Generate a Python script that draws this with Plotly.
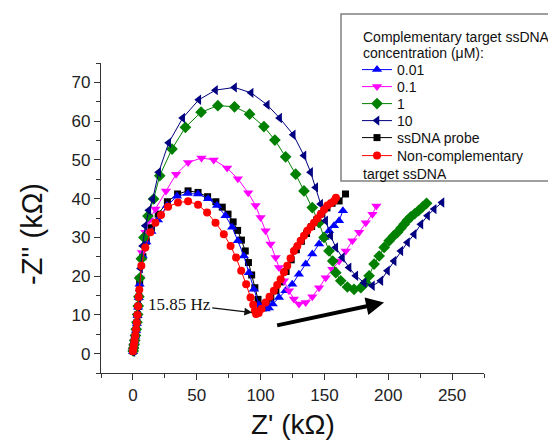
import plotly.graph_objects as go

# ---- data (Z' in kOhm, -Z'' in kOhm) ----
red_x = [0.0,0.3,0.7,1.2,1.8,2.4,3.0,3.5,4.0,4.5,5.0,6.6,9.7,13.7,17.6,22.0,27.5,35.3,43.2,51.0,
         58.1,64.7,71.2,76.5,80.8,84.8,88.7,92.1,94.2,95.5,96.5,98.5,100.8,103.9,107.0,110.4,113.0,115.7,118.3,120.9,
         123.5,126.1,128.8,131.4,134.0,136.6,139.2,141.8,144.5,147.1,149.7,152.3,155.0,157.5,159.0]
red_y = [0.6,1.3,2.2,3.3,4.6,6.2,8.0,10.0,12.2,14.6,16.5,22.7,27.4,31.3,33.8,35.8,37.9,39.0,39.3,38.4,
         36.4,33.8,30.8,27.8,24.8,21.4,17.9,14.5,12.6,11.0,10.2,10.5,11.6,13.2,14.7,16.2,17.7,19.2,21.0,22.7,
         24.6,26.5,27.8,29.1,30.4,31.7,32.7,33.8,34.9,36.0,37.1,38.2,38.8,39.4,40.2]

blue_x = [0.1,0.4,0.8,1.3,1.9,2.5,3.1,3.6,4.1,4.6,5.2,7.6,10.5,14.5,19.6,26.7,34.5,42.9,51.0,58.9,
          65.9,72.5,77.7,82.2,86.9,90.8,94.7,98.7,101.2,103.9,106.5,109.5,114.4,119.5,124.8,130.0,135.3,140.5,145.8,150.0,
          153.6,157.5,161.5,164.5]
blue_y = [0.5,1.2,2.1,3.2,4.5,6.0,7.8,9.8,12.0,14.4,17.9,25.2,28.8,31.5,34.5,38.2,40.6,41.3,41.2,40.0,
          38.2,35.6,32.6,29.1,25.2,20.9,16.6,12.6,11.7,11.5,11.8,12.8,14.5,16.2,17.9,20.5,23.1,25.7,28.3,30.0,
          31.7,33.0,34.3,36.9]

black_x = [0.2,0.5,0.9,1.4,2.0,2.6,3.2,3.7,4.2,4.7,5.3,7.8,10.5,14.5,19.8,27.0,35.0,43.2,51.0,58.5,
           65.0,70.0,74.5,78.5,82.0,85.0,88.0,90.5,93.0,95.5,98.0,100.0,102.0,104.5,108.0,112.0,116.0,120.0,124.0,128.0,
           132.0,136.0,140.0,144.0,148.0,152.0,156.0,161.5,166.5]
black_y = [0.6,1.3,2.2,3.3,4.6,6.2,8.0,10.0,12.2,14.6,18.2,25.0,29.0,32.5,36.0,39.2,41.2,42.0,41.6,40.5,
           39.2,37.8,36.0,34.0,31.8,29.3,26.5,23.5,20.3,17.0,14.0,12.4,11.8,12.8,14.3,16.2,18.5,21.2,24.2,26.8,
           29.0,31.0,32.8,34.5,36.1,37.6,38.8,39.4,41.2]

pink_x = [0.1,0.4,0.8,1.3,1.9,2.5,3.1,3.6,4.1,4.6,5.4,7.1,9.7,12.8,17.6,25.9,33.8,43.2,53.7,63.3,
          73.8,82.2,90.3,96.1,100.0,103.9,107.8,111.8,114.4,118.3,122.2,126.1,130.1,135.3,140.5,145.8,151.0,156.2,161.5,166.7,
          171.9,177.2,182.4,187.6,190.7]
pink_y = [0.5,1.2,2.1,3.2,4.5,6.0,7.8,9.8,12.0,14.4,19.5,26.1,31.3,34.5,37.3,42.0,46.3,49.3,50.5,50.0,
          47.9,45.1,41.5,38.2,35.1,31.7,28.3,24.8,22.2,18.8,16.2,14.1,12.8,13.2,14.7,17.0,19.6,21.8,23.9,26.5,
          29.1,31.3,33.8,36.0,38.1]

green_x = [0.2,0.5,0.9,1.4,2.0,2.6,3.2,3.7,4.2,4.7,5.3,6.6,8.6,11.8,16.2,21.0,30.6,41.1,53.4,66.5,
           79.6,91.4,102.6,111.2,119.6,127.5,134.0,140.5,145.8,149.7,153.6,156.5,158.9,162.8,168.0,173.2,178.5,182.4,185.0,188.9,
           192.9,196.8,200.7,204.0,207.2,210.0,212.5,215.0,217.7,220.7,223.7,227.0,230.0]
green_y = [0.7,1.4,2.3,3.4,4.7,6.3,8.1,10.1,12.3,14.7,19.5,24.5,30.0,35.5,39.9,45.9,52.8,58.4,62.3,64.0,
           63.7,61.8,58.6,55.1,50.8,46.3,42.0,37.7,33.8,30.0,26.5,23.9,20.9,18.8,17.2,16.6,17.0,18.3,20.1,23.1,
           25.2,27.4,29.1,30.3,31.3,32.4,33.4,34.4,35.3,36.1,36.9,37.9,38.8]

navy_x = [0.0,0.3,0.7,1.2,1.8,2.4,3.0,3.5,4.0,4.5,5.0,6.0,7.6,9.7,12.5,15.5,20.2,28.0,39.0,51.6,
          64.7,79.6,92.6,105.2,114.9,125.6,134.0,139.2,143.2,147.1,151.0,154.9,158.9,164.1,169.3,174.6,181.1,187.6,194.2,199.4,
          204.6,209.9,215.1,220.3,225.6,230.8,236.0,242.1]
navy_y = [0.5,1.2,2.1,3.2,4.5,6.0,7.8,9.8,12.0,14.4,16.2,22.0,27.8,33.0,37.0,39.9,46.8,54.4,60.8,65.5,
          68.0,68.7,67.3,64.2,60.8,56.5,51.1,46.8,42.9,38.6,34.3,30.4,27.4,24.8,22.2,20.1,18.3,17.5,18.8,21.4,
          23.9,26.5,28.7,30.8,33.4,35.6,37.3,39.0]

series_names = ["0.01", "0.1", "1", "10", "ssDNA probe", "Non-complementary"]
x_ticks = [0, 50, 100, 150, 200, 250]
y_ticks = [0, 10, 20, 30, 40, 50, 60, 70]

# ---- figure ----
W, H = 548, 443
ML, MR, MT, MB = 101, 64, 63, 70
PW, PH = W - ML - MR, H - MT - MB

def px(xp):
    return (xp - ML) / PW

def py(yp):
    return (H - MB - yp) / PH

FONT = "Liberation Sans, Arial, sans-serif"

fig = go.Figure()

specs = [
    # (x, y, name, color, symbol, size, legend id, legend center pixel y)
    (black_x, black_y, series_names[4], "#000000", "square", 7, "legend5", 138),
    (blue_x, blue_y, series_names[0], "#0000FF", "triangle-up", 9, "legend", 70),
    (pink_x, pink_y, series_names[1], "#FF00FF", "triangle-down", 9, "legend2", 87),
    (green_x, green_y, series_names[2], "#008000", "diamond", 9, "legend3", 104),
    (navy_x, navy_y, series_names[3], "#000080", "triangle-left", 9, "legend4", 121),
    (red_x, red_y, series_names[5], "#FF0000", "circle", 8, "legend6", 156),
]

legend_layout = {}
for xs, ys, name, color, sym, size, lg, lgy in specs:
    fig.add_trace(go.Scatter(
        x=xs, y=ys, name=name, mode="lines+markers",
        line=dict(color=color, width=1),
        marker=dict(symbol=sym, size=size, color=color, line=dict(width=0)),
        legend=lg, showlegend=True,
    ))
    legend_layout[lg] = dict(
        x=px(357), y=py(lgy), xanchor="left", yanchor="middle",
        bgcolor="rgba(0,0,0,0)", borderwidth=0,
        font=dict(family=FONT, size=14, color="#111"),
        itemwidth=30,
    )

axis_common = dict(
    showline=True, linecolor="#333", linewidth=1.3,
    ticks="outside", ticklen=6, tickwidth=1.3, tickcolor="#333",
    showgrid=False, zeroline=False, mirror=False,
    tickfont=dict(family=FONT, size=17, color="#222"),
)

fig.update_layout(
    width=W, height=H,
    showlegend=True,
    margin=dict(l=ML, r=MR, t=MT, b=MB, autoexpand=False),
    paper_bgcolor="white", plot_bgcolor="white",
    xaxis=dict(range=[-25, 275], tickmode="array", tickvals=x_ticks,
               minor=dict(dtick=25, tick0=0, ticks="outside", ticklen=3.5, tickcolor="#333", tickwidth=1.2),
               **axis_common),
    yaxis=dict(range=[-5, 75], tickmode="array", tickvals=y_ticks,
               minor=dict(dtick=5, tick0=0, ticks="outside", ticklen=3.5, tickcolor="#333", tickwidth=1.2),
               **axis_common),
    **legend_layout,
)

# legend frame
fig.add_shape(type="rect", xref="paper", yref="paper",
              x0=px(341), x1=px(570), y0=py(181), y1=py(14),
              line=dict(color="#808080", width=1.5), fillcolor="rgba(0,0,0,0)")

# legend title lines and wrapped last entry
for txt, ypix in [("Complementary target ssDNA", 37), ("concentration (μM):", 53), ("target ssDNA", 174)]:
    fig.add_annotation(text=txt, xref="paper", yref="paper", x=px(361), y=py(ypix),
                       xanchor="left", yanchor="middle", showarrow=False,
                       font=dict(family=FONT, size=14, color="#111"))

# axis titles
fig.add_annotation(text="Z' (kΩ)", xref="paper", yref="paper", x=px(293), y=py(424),
                   xanchor="center", yanchor="middle", showarrow=False,
                   font=dict(family=FONT, size=28, color="#111"))
fig.add_annotation(text="-Z'' (kΩ)", xref="paper", yref="paper", x=px(32), y=py(234),
                   xanchor="center", yanchor="middle", showarrow=False, textangle=-90,
                   font=dict(family=FONT, size=29, color="#111"))

# frequency label with arrow
fig.add_annotation(text="15.85 Hz", x=93.4, y=10.6, ax=36.3, ay=12.8, axref="x", ayref="y",
                   showarrow=True, arrowhead=2, arrowsize=1.2, arrowwidth=1.3, arrowcolor="#111",
                   font=dict(family="Liberation Serif, Times New Roman, serif", size=17, color="#111"))

# thick trend arrow
fig.add_annotation(text="", x=196.7, y=13.2, ax=111.8, ay=7.2, axref="x", ayref="y",
                   showarrow=True, arrowhead=2, arrowsize=0.9, arrowwidth=4, arrowcolor="#000")

fig.write_html("out.html", config={"displayModeBar": False},
               post_script="document.body.style.margin='0';")
